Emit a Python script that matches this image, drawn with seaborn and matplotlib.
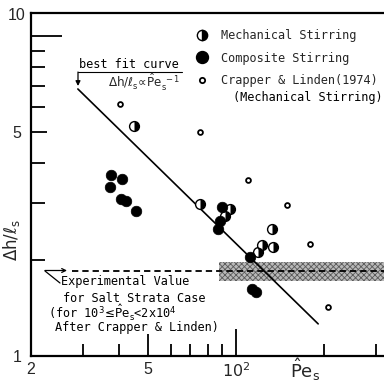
import matplotlib
matplotlib.use('Agg')
import matplotlib.pyplot as plt
import seaborn as sns
from matplotlib.markers import MarkerStyle
from matplotlib.lines import Line2D
from matplotlib.ticker import FixedLocator, NullFormatter, FixedFormatter

# ---------------- data ----------------
mech_x = [44.9, 75.5, 95.6, 91.9, 132.9, 119.1, 122.9, 134.0]
mech_y = [5.23, 2.99, 2.88, 2.74, 2.49, 2.11, 2.22, 2.19]
comp_x = [37.5, 40.9, 37.2, 40.6, 42.2, 45.6, 89.7, 88.3, 86.9, 111.8, 113.6, 117.2]
comp_y = [3.68, 3.57, 3.37, 3.09, 3.05, 2.84, 2.92, 2.64, 2.49, 2.04, 1.62, 1.585]
cl_x = [40.3, 75.5, 110.0, 149.5, 179.0, 206.0]
cl_y = [6.13, 5.01, 3.55, 2.96, 2.24, 1.42]
fit_x = [28.9, 190.8]
fit_y = [6.83, 1.26]
exp_value = 1.85
exp_x = [27.6, 320]
band_x = [87.6, 320]
band_lo, band_hi = 1.71, 1.97
x_major = [20, 50, 100]
x_major_labels = ['2', '5', r'$10^2$']
x_minor = [30, 40, 60, 70, 80, 90, 200, 300]
y_major = [1, 5, 10]
y_major_labels = ['1', '5', '']
y_minor = [2, 3, 4, 6, 7, 8, 9]
legend_labels = ['Mechanical Stirring', 'Composite Stirring', 'Crapper & Linden(1974)']

sns.set_style('ticks')
plt.rcParams['font.family'] = ['Liberation Sans', 'DejaVu Sans']
plt.rcParams['mathtext.fontset'] = 'dejavusans'
plt.rcParams['hatch.linewidth'] = 0.6

W, H = 384, 385
fig = plt.figure(figsize=(W / 100, H / 100), dpi=100)


def px(x, y):
    return (x / W, 1 - y / H)


ax = fig.add_axes([31 / W, (H - 356) / H, 1 - 31 / W, (356 - 13) / H])
ax.set_xscale('log')
ax.set_yscale('log')
ax.set_xlim(20, 320)
ax.set_ylim(1, 11.8)

# shaded band + dashed experimental value
ax.fill_between(band_x, band_lo, band_hi, facecolor='#b8b8b8', edgecolor='#5a5a5a',
                hatch='xxxxxx', linewidth=0, zorder=1)
ax.hlines(exp_value, exp_x[0], exp_x[1], colors='black', linestyles=(0, (3.5, 2.2)),
          linewidth=1.3, zorder=2)

# best fit line
sns.lineplot(x=fit_x, y=fit_y, color='black', linewidth=1.2, ax=ax, zorder=3)

# mechanical stirring (right half filled)
sns.scatterplot(x=mech_x, y=mech_y, marker='o', color='white', edgecolor='black',
                linewidth=1.0, s=50, ax=ax, zorder=4)
sns.scatterplot(x=mech_x, y=mech_y, marker=MarkerStyle('o', fillstyle='right'),
                color='black', linewidth=0, s=50, ax=ax, zorder=5)
# composite stirring
sns.scatterplot(x=comp_x, y=comp_y, marker='o', color='black', edgecolor='black',
                linewidth=0.5, s=58, ax=ax, zorder=6)
# Crapper & Linden
sns.scatterplot(x=cl_x, y=cl_y, marker='o', color='white', edgecolor='black',
                linewidth=1.3, s=12, ax=ax, zorder=6)

# ticks
ax.xaxis.set_major_locator(FixedLocator(x_major))
ax.xaxis.set_major_formatter(FixedFormatter(x_major_labels))
ax.xaxis.set_minor_locator(FixedLocator(x_minor))
ax.xaxis.set_minor_formatter(NullFormatter())
ax.yaxis.set_major_locator(FixedLocator(y_major))
ax.yaxis.set_major_formatter(FixedFormatter(y_major_labels))
ax.yaxis.set_minor_locator(FixedLocator(y_minor))
ax.yaxis.set_minor_formatter(NullFormatter())
ax.tick_params(which='both', direction='in', width=1.3, color='black', top=False, right=False)
ax.tick_params(axis='x', which='major', labelsize=11.5, pad=4)
ax.tick_params(axis='y', which='major', labelsize=11.5, pad=7)
ax.tick_params(axis='x', which='minor', length=8.6)
ax.tick_params(axis='y', which='minor', length=10)
for t, L in zip(ax.xaxis.get_major_ticks(), [0, 15.8, 19.4]):
    t.tick1line.set_markersize(L)
for t, L in zip(ax.yaxis.get_major_ticks(), [0, 11.5, 22.3]):
    t.tick1line.set_markersize(L)

for s in ['left', 'bottom', 'top']:
    ax.spines[s].set_linewidth(1.6)
    ax.spines[s].set_color('black')
ax.spines['right'].set_visible(False)

# labels
fig.text(*px(17, 16), '10', fontsize=11.5, ha='center', va='center')
ax.set_ylabel(r'$\Delta\mathrm{h}/\ell_\mathrm{s}$', fontsize=12, labelpad=0)
ax.yaxis.set_label_coords((22 - 31) / 353, (356 - 240) / 343)
fig.text(*px(305, 370), r'$\hat{\mathrm{P}}\mathrm{e}_\mathrm{s}$', fontsize=13,
         ha='center', va='center')

mono = dict(family='DejaVu Sans Mono', fontsize=8.6, color='black')

# legend
handles = [
    Line2D([], [], marker='o', linestyle='none', markersize=7.4, fillstyle='right',
           markerfacecolor='black', markerfacecoloralt='white', markeredgecolor='black',
           markeredgewidth=1.0),
    Line2D([], [], marker='o', linestyle='none', markersize=8.6, color='black'),
    Line2D([], [], marker='o', linestyle='none', markersize=3.8, markerfacecolor='white',
           markeredgecolor='black', markeredgewidth=1.3),
]
leg = ax.legend(handles, legend_labels, loc='upper left', bbox_to_anchor=px(196, 29),
                bbox_transform=fig.transFigure, frameon=False, borderpad=0,
                borderaxespad=0, handlelength=1.0, handletextpad=1.1,
                labelspacing=0.8, prop={'family': 'DejaVu Sans Mono', 'size': 8.6})
fig.text(*px(233, 98), '(Mechanical Stirring)', ha='left', va='center', **mono)

# best fit annotation
fig.text(*px(129, 65), 'best fit curve', ha='center', va='center', **mono)
fig.add_artist(Line2D([78 / W, 182 / W], [1 - 71.5 / H, 1 - 71.5 / H], color='black',
                      linewidth=0.8))
ax.annotate('', xy=px(78, 86), xytext=px(78, 72), xycoords='figure fraction',
            textcoords='figure fraction',
            arrowprops=dict(arrowstyle='-|>', color='black', lw=0.9, mutation_scale=7,
                            shrinkA=0, shrinkB=0))
fig.text(*px(108, 82), r'$\Delta\mathrm{h}/\ell_\mathrm{s}\!\propto\!\hat{\mathrm{P}}\mathrm{e}_\mathrm{s}^{\ -1}$',
         ha='left', va='center', fontsize=8.6)

# experimental value annotation
ax.annotate('', xy=px(67, 270.5), xytext=px(45, 270.5), xycoords='figure fraction',
            textcoords='figure fraction',
            arrowprops=dict(arrowstyle='->', color='black', lw=0.9, mutation_scale=7,
                            shrinkA=0, shrinkB=0))
fig.add_artist(Line2D([45 / W, 60 / W], [1 - 271 / H, 1 - 283 / H], color='black',
                      linewidth=0.9))
fig.text(*px(61, 281), 'Experimental Value', ha='left', va='center', **mono)
fig.text(*px(63, 298), 'for Salt Strata Case', ha='left', va='center', **mono)
fig.text(*px(48, 313), r'(for 10$^3\!\leq\!\hat{\mathrm{P}}\mathrm{e}_\mathrm{s}$<2x10$^4$',
         ha='left', va='center', **mono)
fig.text(*px(55, 328), 'After Crapper & Linden)', ha='left', va='center', **mono)

fig.savefig('out.png', dpi=100)
